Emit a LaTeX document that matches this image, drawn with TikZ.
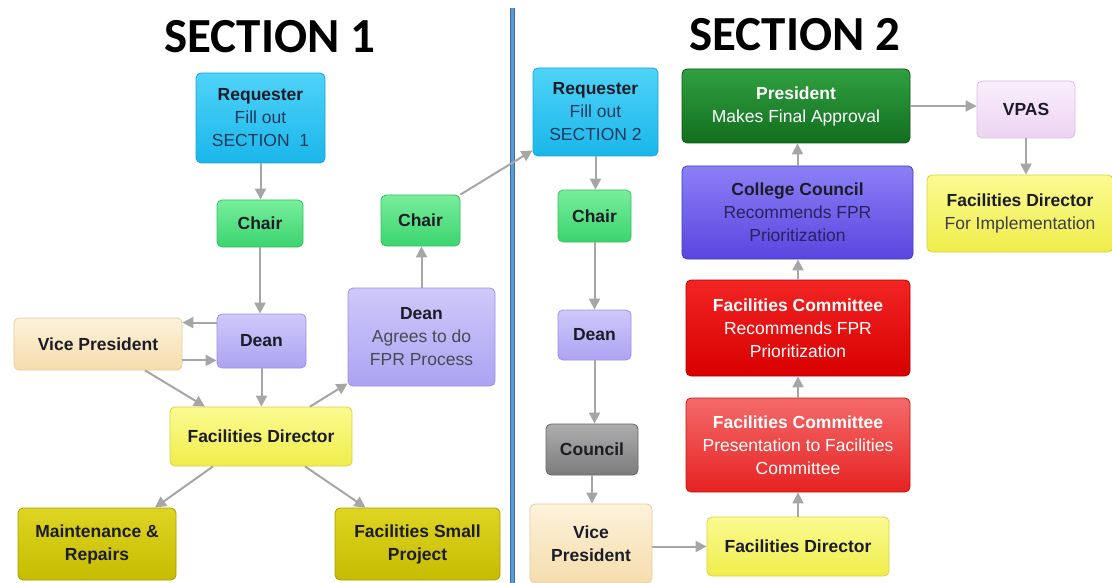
\documentclass[tikz,border=0pt]{standalone}
\usepackage{fontspec}
\setmainfont{Liberation Sans}
\newfontfamily\titlefont{Carlito}
\usepackage{tikz}
\usetikzlibrary{arrows.meta}

\definecolor{arrowgray}{HTML}{A6A6A6}
\definecolor{divblue}{HTML}{5B9BD5}
\definecolor{divedge}{HTML}{3C6DA6}
\definecolor{darktext}{HTML}{1C1C28}
\definecolor{bluetext}{HTML}{1E3A5C}
\definecolor{cctext}{HTML}{2A2260}
% colori dei box: alto, basso, bordo
\definecolor{cyanA}{HTML}{4FD3F8}\definecolor{cyanB}{HTML}{1AB6EA}\definecolor{cyanC}{HTML}{1AA3D6}
\definecolor{greenA}{HTML}{78EE9C}\definecolor{greenB}{HTML}{3BD46F}\definecolor{greenC}{HTML}{36C062}
\definecolor{lavA}{HTML}{CFC9FB}\definecolor{lavB}{HTML}{ACA3F1}\definecolor{lavC}{HTML}{9A91E2}
\definecolor{beigeA}{HTML}{FDF2DA}\definecolor{beigeB}{HTML}{F5DDAE}\definecolor{beigeC}{HTML}{E4CD9C}
\definecolor{yellowA}{HTML}{FBFB92}\definecolor{yellowB}{HTML}{EFED4A}\definecolor{yellowC}{HTML}{D6D43E}
\definecolor{oliveA}{HTML}{DED523}\definecolor{oliveB}{HTML}{C6BC00}\definecolor{oliveC}{HTML}{A89F00}
\definecolor{grayA}{HTML}{ADADAD}\definecolor{grayB}{HTML}{7C7C7C}\definecolor{grayC}{HTML}{666666}
\definecolor{lredA}{HTML}{F56A6A}\definecolor{lredB}{HTML}{E62222}\definecolor{lredC}{HTML}{C81414}
\definecolor{redA}{HTML}{F22424}\definecolor{redB}{HTML}{D80000}\definecolor{redC}{HTML}{B00000}
\definecolor{purpA}{HTML}{8C80F6}\definecolor{purpB}{HTML}{5846DF}\definecolor{purpC}{HTML}{4737C6}
\definecolor{dgreenA}{HTML}{30A040}\definecolor{dgreenB}{HTML}{126E1F}\definecolor{dgreenC}{HTML}{0D5816}
\definecolor{pinkA}{HTML}{FAEEFC}\definecolor{pinkB}{HTML}{EDD4F2}\definecolor{pinkC}{HTML}{D8BEE0}

\tikzstyle{basebox} = [rectangle, rounded corners=5pt, line width=0.8pt, align=center, inner sep=2pt, text=darktext, font=\fontsize{17.5}{23}\selectfont]
\tikzstyle{cyanbox} = [basebox, top color=cyanA, bottom color=cyanB, draw=cyanC]
\tikzstyle{greenbox} = [basebox, top color=greenA, bottom color=greenB, draw=greenC]
\tikzstyle{lavbox} = [basebox, top color=lavA, bottom color=lavB, draw=lavC]
\tikzstyle{beigebox} = [basebox, top color=beigeA, bottom color=beigeB, draw=beigeC]
\tikzstyle{yellowbox} = [basebox, top color=yellowA, bottom color=yellowB, draw=yellowC]
\tikzstyle{olivebox} = [basebox, top color=oliveA, bottom color=oliveB, draw=oliveC]
\tikzstyle{graybox} = [basebox, top color=grayA, bottom color=grayB, draw=grayC]
\tikzstyle{lightredbox} = [basebox, top color=lredA, bottom color=lredB, draw=lredC, text=white]
\tikzstyle{redbox} = [basebox, top color=redA, bottom color=redB, draw=redC, text=white]
\tikzstyle{purplebox} = [basebox, top color=purpA, bottom color=purpB, draw=purpC]
\tikzstyle{dgreenbox} = [basebox, top color=dgreenA, bottom color=dgreenB, draw=dgreenC, text=white]
\tikzstyle{pinkbox} = [basebox, top color=pinkA, bottom color=pinkB, draw=pinkC]
\tikzstyle{arr} = [draw=arrowgray, line width=2pt, -{Triangle[length=11pt,width=11pt]}]

\begin{document}
\begin{tikzpicture}[x=1pt, y=-1pt]
	\useasboundingbox (0,0) rectangle (1112,583);

	% titoli
	\node (title1) at (270,37) {\titlefont\bfseries\fontsize{49}{49}\selectfont SECTION 1};
	\node (title2) at (795,35) {\titlefont\bfseries\fontsize{49}{49}\selectfont SECTION 2};

	% linea divisoria
	\coordinate (divtop) at (512,8);
	\coordinate (divbot) at (512,583);
	\draw[divedge, line width=5pt] (divtop) -- (divbot);
	\draw[divblue, line width=3pt] (divtop) -- (divbot);

	% sezione 1
	\node [cyanbox, minimum width=129pt, minimum height=90pt] (req1) at (260.5,118)
		{\textbf{Requester}\\\color{bluetext}Fill out\\\color{bluetext}SECTION\ \ 1};
	\node [greenbox, minimum width=86pt, minimum height=47pt] (chair1) at (260,223.5) {\textbf{Chair}};
	\node [lavbox, minimum width=89pt, minimum height=54pt] (dean1) at (261.5,341) {\textbf{Dean}};
	\node [beigebox, minimum width=168pt, minimum height=52pt] (vp1) at (98,344) {\textbf{Vice President}};
	\node [yellowbox, minimum width=182pt, minimum height=59pt] (fd1) at (261,436.5) {\textbf{Facilities Director}};
	\node [olivebox, minimum width=158pt, minimum height=72pt] (maint) at (97,544) {\textbf{Maintenance \&}\\\textbf{Repairs}};
	\node [olivebox, minimum width=165pt, minimum height=72pt] (fsp) at (417.5,544) {\textbf{Facilities Small}\\\textbf{Project}};
	\node [lavbox, minimum width=147pt, minimum height=98pt] (dean2) at (421.5,337)
		{\textbf{Dean}\\\color{darktext!80}Agrees to do\\\color{darktext!80}FPR Process};
	\node [greenbox, minimum width=79pt, minimum height=51pt] (chair2) at (420.5,220.5) {\textbf{Chair}};

	\draw [arr] (req1.south) -- (req1.south |- chair1.north);
	\draw [arr] (chair1.south) -- (chair1.south |- dean1.north);
	\draw [arr] ([yshift=-9pt]dean1.north west) -- ([yshift=-9pt]dean1.north west -| vp1.east);
	\draw [arr] ([yshift=8pt]dean1.south west -| vp1.east) -- ([yshift=8pt]dean1.south west);
	\draw [arr] ([xshift=47pt]vp1.south) -- ([xshift=-56pt]fd1.north);
	\draw [arr] (dean1.south) -- (dean1.south |- fd1.north);
	\draw [arr] ([xshift=49pt]fd1.north) -- ([yshift=3pt]dean2.south west);
	\draw [arr] ([xshift=-48pt]fd1.south) -- ([xshift=58pt]maint.north);
	\draw [arr] ([xshift=44pt]fd1.south) -- ([xshift=-52pt]fsp.north);
	\draw [arr] (dean2.north) -- (dean2.north |- chair2.south);

	% sezione 2
	\node [cyanbox, minimum width=125pt, minimum height=88pt] (req2) at (595.5,112)
		{\textbf{Requester}\\\color{bluetext}Fill out\\\color{bluetext}SECTION 2};
	\node [greenbox, minimum width=73pt, minimum height=52pt] (chair3) at (594.5,216) {\textbf{Chair}};
	\node [lavbox, minimum width=73pt, minimum height=50pt] (dean3) at (594.5,335) {\textbf{Dean}};
	\node [graybox, minimum width=92pt, minimum height=51pt] (council) at (592,449.5) {\textbf{Council}};
	\node [beigebox, minimum width=122pt, minimum height=79pt] (vp2) at (591,543.5) {\textbf{Vice}\\\textbf{President}};
	\node [yellowbox, minimum width=182pt, minimum height=59pt] (fd2) at (798,546.5) {\textbf{Facilities Director}};
	\node [lightredbox, minimum width=224pt, minimum height=94pt] (fc1) at (798,445)
		{\textbf{Facilities Committee}\\Presentation to Facilities\\Committee};
	\node [redbox, minimum width=224pt, minimum height=96pt] (fc2) at (798,328)
		{\textbf{Facilities Committee}\\Recommends FPR\\Prioritization};
	\node [purplebox, minimum width=231pt, minimum height=93pt] (cc) at (797.5,212.5)
		{\textbf{College Council}\\\color{cctext}Recommends FPR\\\color{cctext}Prioritization};
	\node [dgreenbox, minimum width=228pt, minimum height=74pt] (pres) at (796,106)
		{\textbf{President}\\Makes Final Approval};
	\node [pinkbox, minimum width=98pt, minimum height=57pt] (vpas) at (1026,109.5) {\textbf{VPAS}};
	\node [yellowbox, minimum width=186pt, minimum height=77pt] (fd3) at (1020,213.5)
		{\textbf{Facilities Director}\\\color{darktext!85}For Implementation};

	\draw [arr] (chair2.north east) -- ([yshift=6pt]req2.south west);
	\draw [arr] (req2.south) -- (req2.south |- chair3.north);
	\draw [arr] (chair3.south) -- (chair3.south |- dean3.north);
	\draw [arr] (dean3.south) -- (dean3.south |- council.north);
	\draw [arr] (council.south) -- (council.south |- vp2.north);
	\draw [arr] (vp2.east |- fd2.west) -- (fd2.west);
	\draw [arr] (fd2.north) -- (fd2.north |- fc1.south);
	\draw [arr] (fc1.north) -- (fc1.north |- fc2.south);
	\draw [arr] (fc2.north) -- (fc2.north |- cc.south);
	\draw [arr] (cc.north) -- (cc.north |- pres.south);
	\draw [arr] (pres.east) -- (pres.east -| vpas.west);
	\draw [arr] (vpas.south) -- (vpas.south |- fd3.north);
\end{tikzpicture}
\end{document}
